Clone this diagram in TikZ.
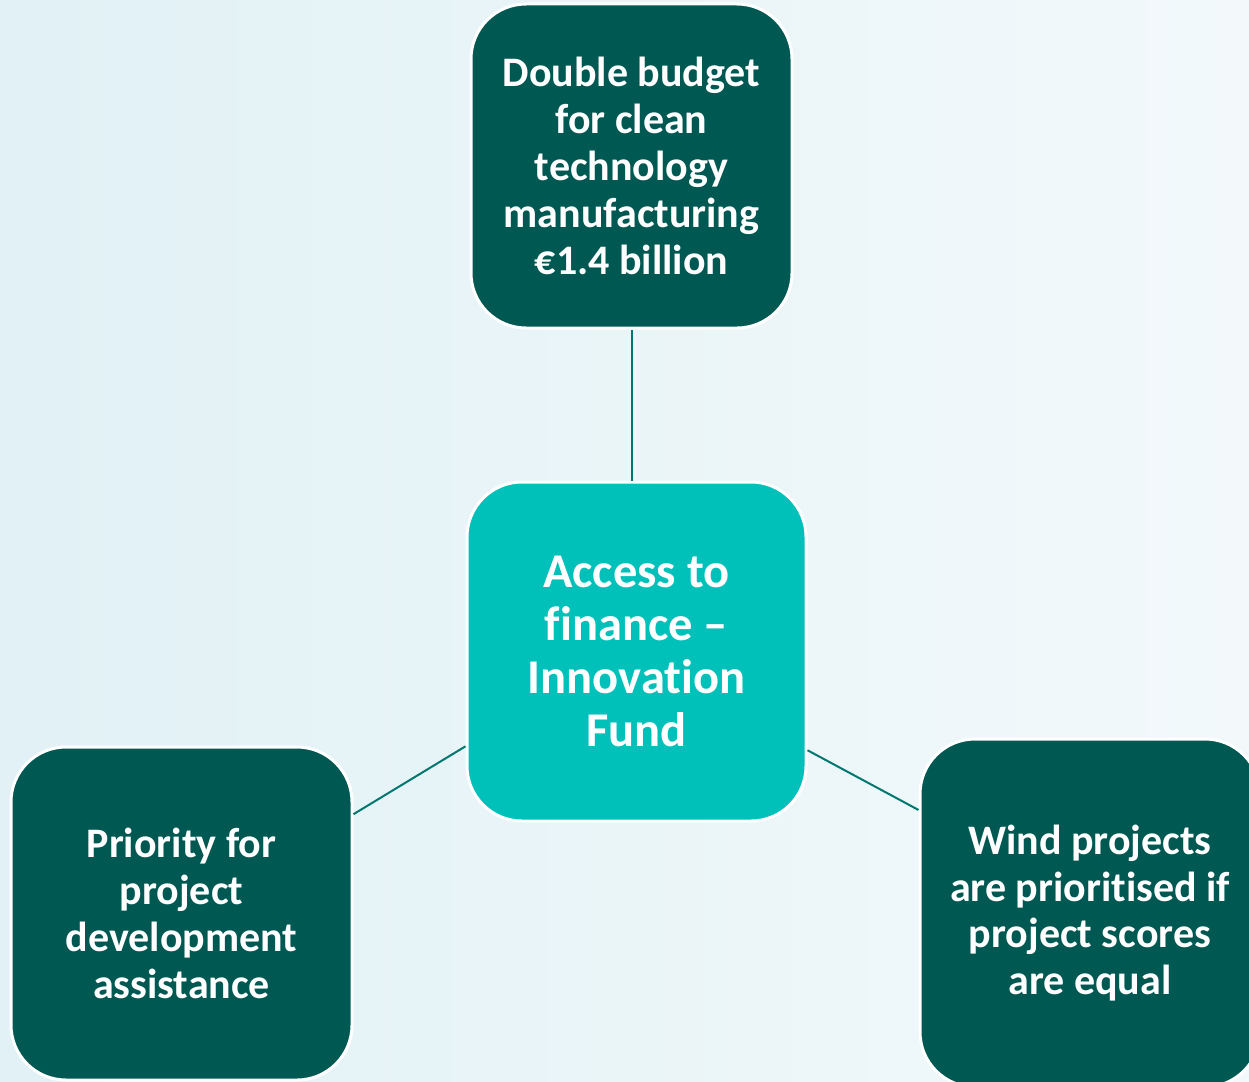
\documentclass[tikz,border=0pt]{standalone}
\usepackage{fontspec}
\setmainfont[RawFeature={-liga;-dlig;-clig;-calt}]{Carlito}
\definecolor{darkteal}{RGB}{0,88,82}
\definecolor{brightteal}{RGB}{0,193,186}
\definecolor{linkteal}{RGB}{0,120,112}
\definecolor{bgleft}{RGB}{225,241,245}
\definecolor{bgright}{RGB}{243,249,251}
\newcommand{\nolig}{\kern0pt }
\tikzset{
  box/.style={draw=white, line width=3pt, rounded corners=55pt, align=center,
    text=white, font=\bfseries\fontsize{42}{46.8}\selectfont, inner sep=0pt},
  outerbox/.style={box, fill=darkteal},
  hubbox/.style={box, fill=brightteal, font=\bfseries\fontsize{48.5}{53}\selectfont},
  link/.style={draw=linkteal, line width=2pt}
}
\begin{document}
\begin{tikzpicture}[x=1pt,y=-1pt]
\useasboundingbox (0,0) rectangle (1249,1081);
\shade[left color=bgleft, right color=bgright] (0,0) rectangle (1249,1081);
\node[outerbox, minimum width=321pt, minimum height=324pt] (top) at (631.5,166)
  {Double budget\\for clean\\technology\\manufacturing\\€1.4 billion};
\node[hubbox, minimum width=339pt, minimum height=339pt] (hub) at (636.5,651.5)
  {Access to\\f\nolig inance –\\Innovat\nolig ion\\Fund};
\node[outerbox, minimum width=341pt, minimum height=333pt] (left) at (181.5,913.5)
  {Priority for\\project\\development\\assistance};
\node[outerbox, minimum width=340pt, minimum height=348pt] (right) at (1090,913)
  {Wind projects\\are priorit\nolig ised if\\project scores\\are equal};
\draw[link] (top.south) -- (top.south |- hub.north);
\draw[link] (left.30.5) -- (hub.209.8);
\draw[link] (hub.330.2) -- (right.149.8);
\end{tikzpicture}
\end{document}
